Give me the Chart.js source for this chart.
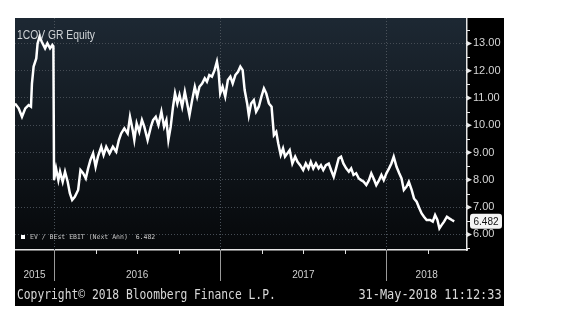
<!DOCTYPE html>
<html>
<head>
<meta charset="utf-8">
<script src="https://cdn.jsdelivr.net/npm/chart.js@4"></script>
<style>
  body { margin:0; background:#fff; width:569px; height:323px; overflow:hidden; }
  #panel { position:absolute; left:15px; top:18px; width:489px; height:288px; background:#000; }
  #chart { position:absolute; left:0; top:0; }
  .txt { position:absolute; white-space:nowrap; color:#d4d4d4; }
  #title { left:2px; top:10px; font:12px "Liberation Sans", Arial, sans-serif; color:#cfd3d6; transform:scaleX(0.86); transform-origin:left center; }
  #legend { left:6px; top:215px; font:6.5px "DejaVu Sans Mono", monospace; color:#c8c8c8; }
  #legend span { display:inline-block; width:4px; height:4px; background:#fff; margin-right:5px; vertical-align:middle; }
  #copy { left:2px; top:268px; font:14.5px "DejaVu Sans Mono", monospace; transform:scaleX(0.78); transform-origin:left center; color:#d8d8d8; }
  #stamp { right:2px; top:268px; font:14.5px "DejaVu Sans Mono", monospace; transform:scaleX(0.82); transform-origin:right center; color:#d8d8d8; }
</style>
</head>
<body>
<div id="panel">
  <canvas id="chart" width="489" height="288"></canvas>
  <div class="txt" id="title">1COV GR Equity</div>
  <div class="txt" id="legend"><span></span>EV / BEst EBIT (Next Ann)&nbsp; 6.482</div>
  <div class="txt" id="copy">Copyright© 2018 Bloomberg Finance L.P.</div>
  <div class="txt" id="stamp">31-May-2018 11:12:33</div>
</div>
<script>
// dates as decimal years
const dateYears = [
  2015.765, 2015.787, 2015.807, 2015.827, 2015.847, 2015.861, 2015.867, 2015.877, 2015.893, 2015.901,
  2015.913, 2015.926, 2015.946, 2015.960, 2015.976, 2015.990, 2015.996, 2016.000, 2016.012, 2016.026,
  2016.036, 2016.052, 2016.066, 2016.082, 2016.095, 2016.109, 2016.125, 2016.145, 2016.159, 2016.175,
  2016.191, 2016.205, 2016.219, 2016.235, 2016.250, 2016.264, 2016.284, 2016.298, 2016.314, 2016.334,
  2016.354, 2016.374, 2016.390, 2016.404, 2016.423, 2016.443, 2016.457, 2016.473, 2016.483, 2016.497,
  2016.513, 2016.529, 2016.543, 2016.563, 2016.583, 2016.596, 2016.612, 2016.628, 2016.646, 2016.662,
  2016.676, 2016.688, 2016.702, 2016.716, 2016.728, 2016.742, 2016.755, 2016.771, 2016.787, 2016.801,
  2016.815, 2016.831, 2016.847, 2016.861, 2016.875, 2016.891, 2016.907, 2016.920, 2016.934, 2016.950,
  2016.966, 2016.980, 2016.990, 2017.000, 2017.014, 2017.030, 2017.046, 2017.061, 2017.075, 2017.091,
  2017.107, 2017.121, 2017.135, 2017.147, 2017.162, 2017.172, 2017.186, 2017.202, 2017.216, 2017.232,
  2017.248, 2017.263, 2017.277, 2017.293, 2017.309, 2017.323, 2017.337, 2017.349, 2017.364, 2017.378,
  2017.390, 2017.404, 2017.418, 2017.434, 2017.451, 2017.465, 2017.481, 2017.499, 2017.515, 2017.531,
  2017.545, 2017.560, 2017.576, 2017.592, 2017.606, 2017.620, 2017.636, 2017.653, 2017.667, 2017.683,
  2017.697, 2017.713, 2017.727, 2017.741, 2017.758, 2017.774, 2017.788, 2017.802, 2017.818, 2017.834,
  2017.848, 2017.863, 2017.879, 2017.895, 2017.909, 2017.923, 2017.939, 2017.956, 2017.970, 2017.984,
  2018.000, 2018.016, 2018.030, 2018.044, 2018.061, 2018.077, 2018.091, 2018.105, 2018.121, 2018.135,
  2018.152, 2018.166, 2018.182, 2018.198, 2018.212, 2018.226, 2018.242, 2018.263, 2018.279, 2018.293,
  2018.307, 2018.319, 2018.333, 2018.347, 2018.364, 2018.378, 2018.394, 2018.408
];

const evEbit = [
  10.80, 10.62, 10.31, 10.62, 10.74, 10.68, 11.53, 12.15, 12.45, 13.00,
  13.25, 13.06, 12.82, 13.00, 12.82, 12.94, 12.88, 7.99, 8.42, 7.99,
  8.30, 7.93, 8.30, 7.93, 7.51, 7.26, 7.38, 7.63, 8.36, 8.24,
  8.05, 8.42, 8.73, 8.97, 8.48, 8.85, 9.21, 8.91, 9.21, 8.97,
  9.21, 9.03, 9.46, 9.70, 9.89, 9.70, 10.31, 9.83, 9.46, 10.07,
  9.76, 10.19, 9.95, 9.46, 9.95, 10.19, 10.31, 10.01, 10.50, 9.95,
  10.19, 9.46, 9.95, 10.68, 11.17, 10.80, 11.11, 10.68, 11.23, 10.80,
  10.37, 10.92, 11.41, 11.05, 11.41, 11.53, 11.72, 11.60, 11.84, 11.78,
  12.02, 12.33, 11.96, 11.17, 11.41, 11.05, 11.66, 11.78, 11.53, 11.84,
  11.96, 12.15, 12.02, 11.29, 10.80, 10.37, 10.80, 10.92, 10.50, 10.68,
  11.05, 11.35, 11.17, 10.80, 10.68, 9.64, 9.76, 9.34, 8.91, 9.15,
  8.85, 8.97, 9.09, 8.60, 8.85, 8.66, 8.54, 8.36, 8.60, 8.42,
  8.66, 8.42, 8.60, 8.42, 8.54, 8.36, 8.54, 8.60, 8.36, 8.11,
  8.42, 8.79, 8.85, 8.60, 8.42, 8.30, 8.42, 8.18, 8.24, 8.05,
  7.99, 7.93, 7.81, 7.99, 8.24, 8.05, 7.81, 7.99, 8.18, 7.99,
  8.24, 8.42, 8.60, 8.85, 8.48, 8.24, 8.05, 7.63, 7.75, 7.93,
  7.63, 7.32, 7.20, 6.96, 6.77, 6.65, 6.53, 6.53, 6.47, 6.71,
  6.53, 6.22, 6.35, 6.47, 6.65, 6.59, 6.53, 6.482
];

const yearLabels = ["2015", "2016", "2017", "2018"];
const yTickValues = [6, 7, 8, 9, 10, 11, 12, 13];
const lastValue = "6.482";

const X_MIN = 2015.765, X_MAX = 2018.485;
const Y_MIN = 5.43, Y_MAX = 13.93;

// centre of the visible part of each year
function yearLabelPos() {
  return yearLabels.map(y => {
    const a = Math.max(+y, X_MIN), b = Math.min(+y + 1, X_MAX);
    return (a + b) / 2;
  });
}

const bbgDecor = {
  id: "bbgDecor",
  beforeDraw(chart) {
    const { ctx, chartArea: a } = chart;
    const g = ctx.createLinearGradient(0, a.top, 0, a.bottom);
    g.addColorStop(0, "#1d2833");
    g.addColorStop(1, "#06080a");
    ctx.save();
    ctx.fillStyle = g;
    ctx.fillRect(a.left, a.top, a.right - a.left, a.bottom - a.top);
    ctx.restore();
  },
  beforeDatasetsDraw(chart) {
    const { ctx, chartArea: a, scales: { x } } = chart;
    ctx.save();
    ctx.strokeStyle = "#4a525a";
    ctx.setLineDash([1, 2]);
    for (let yr = 2016; yr <= 2018; yr++) {
      const px = Math.round(x.getPixelForValue(yr)) + 0.5;
      ctx.beginPath();
      ctx.moveTo(px, a.top);
      ctx.lineTo(px, a.bottom);
      ctx.stroke();
    }
    ctx.restore();
  },
  afterDraw(chart) {
    const { ctx, chartArea: a, scales: { x, y } } = chart;
    ctx.save();
    // year separators + quarter ticks under the plot
    ctx.strokeStyle = "#9a9a9a";
    ctx.lineWidth = 1;
    for (let yr = 2016; yr <= 2018; yr++) {
      const px = Math.round(x.getPixelForValue(yr)) + 0.5;
      ctx.beginPath();
      ctx.moveTo(px, a.bottom);
      ctx.lineTo(px, a.bottom + 31);
      ctx.stroke();
    }
    ctx.strokeStyle = "#e0e0e0";
    for (let q = 2015.75; q < X_MAX; q += 0.25) {
      if (q < X_MIN || Number.isInteger(q)) continue;
      const px = Math.round(x.getPixelForValue(q)) + 0.5;
      ctx.beginPath();
      ctx.moveTo(px, a.bottom);
      ctx.lineTo(px, a.bottom + 4);
      ctx.stroke();
    }
    // right axis markers
    ctx.fillStyle = "#e8e8e8";
    ctx.strokeStyle = "#e8e8e8";
    yTickValues.forEach(v => {
      const py = y.getPixelForValue(v);
      ctx.beginPath();
      ctx.moveTo(a.right, py - 2.5);
      ctx.lineTo(a.right + 5, py);
      ctx.lineTo(a.right, py + 2.5);
      ctx.closePath();
      ctx.fill();
    });
    for (let v = 5.5; v < Y_MAX; v += 1) {
      const py = Math.round(y.getPixelForValue(v)) + 0.5;
      ctx.beginPath();
      ctx.moveTo(a.right, py);
      ctx.lineTo(a.right + 3, py);
      ctx.stroke();
    }
    // last value tag
    const ty = y.getPixelForValue(evEbit[evEbit.length - 1]);
    const tx = a.right + 3, tw = 32, th = 15;
    ctx.fillStyle = "#f4f4f4";
    ctx.beginPath();
    ctx.roundRect(tx, ty - th / 2, tw, th, 3);
    ctx.fill();
    ctx.fillStyle = "#111";
    ctx.font = "10px 'Liberation Sans', Arial, sans-serif";
    ctx.textAlign = "center";
    ctx.textBaseline = "middle";
    ctx.fillText(lastValue, tx + tw / 2, ty + 0.5);
    ctx.restore();
  }
};

new Chart(document.getElementById("chart"), {
  type: "line",
  data: {
    datasets: [{
      data: dateYears.map((d, i) => ({ x: d, y: evEbit[i] })),
      borderColor: "#ffffff",
      borderWidth: 2.5,
      pointRadius: 0,
      tension: 0
    }]
  },
  options: {
    responsive: false,
    animation: false,
    devicePixelRatio: 1,
    layout: { padding: 0 },
    plugins: { legend: { display: false }, tooltip: { enabled: false } },
    scales: {
      x: {
        type: "linear",
        min: X_MIN,
        max: X_MAX,
        afterBuildTicks: s => { s.ticks = yearLabelPos().map(v => ({ value: v })); },
        afterFit: s => { s.height = 56; s.paddingLeft = 0; s.paddingRight = 0; },
        ticks: {
          color: "#cfcfcf",
          font: { family: "Liberation Sans", size: 10 },
          padding: 19,
          maxRotation: 0,
          autoSkip: false,
          callback: (v, i) => yearLabels[i]
        },
        grid: { display: false, drawTicks: false },
        border: { display: true, color: "#e6e6e6", width: 1.5 }
      },
      y: {
        position: "right",
        min: Y_MIN,
        max: Y_MAX,
        afterBuildTicks: s => { s.ticks = yTickValues.map(v => ({ value: v })); },
        afterFit: s => { s.width = 37; s.paddingTop = 0; s.paddingBottom = 0; },
        ticks: {
          color: "#d6d6d6",
          font: { family: "Liberation Sans", size: 11 },
          padding: 6,
          callback: v => v.toFixed(2)
        },
        grid: { color: "#454c54", drawTicks: false },
        border: { display: true, color: "#e6e6e6", width: 1.5, dash: [1, 2] }
      }
    }
  },
  plugins: [bbgDecor]
});
</script>
</body>
</html>
